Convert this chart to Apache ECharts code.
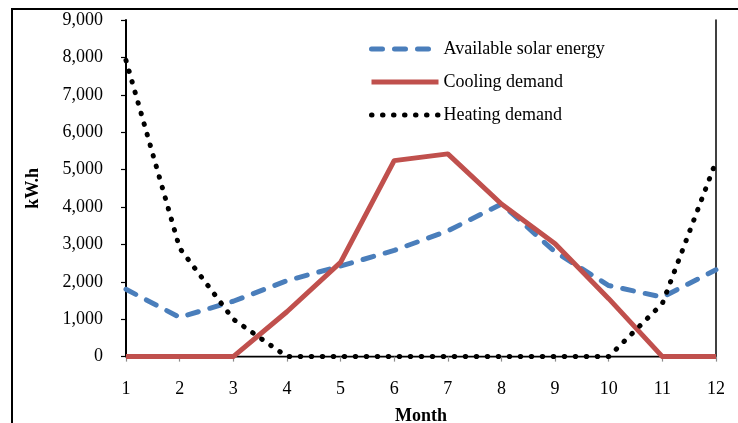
<!DOCTYPE html>
<html>
<head>
<meta charset="utf-8">
<style>
  html, body { margin: 0; padding: 0; background: #fff; }
  #chart { width: 738px; height: 423px; }
</style>
<script src="https://cdn.jsdelivr.net/npm/echarts@6/dist/echarts.min.js"></script>
</head>
<body>
<div id="chart"></div>
<script>
// Monthly energy balance (kW.h)
const months = ['1', '2', '3', '4', '5', '6', '7', '8', '9', '10', '11', '12'];
const solarEnergy = [1800, 1050, 1480, 2030, 2420, 2840, 3360, 4080, 2800, 1900, 1590, 2320];
const coolingDemand = [0, 0, 0, 1200, 2520, 5240, 5420, 4080, 3020, 1550, 0, 0];
const heatingDemand = [7920, 2900, 1000, 0, 0, 0, 0, 0, 0, 0, 1420, 5220];
const yTicks = { min: 0, max: 9000, step: 1000 };

const FONT = '"Liberation Serif", "Times New Roman", serif';
const FS = 18;
const chart = echarts.init(document.getElementById('chart'));

chart.setOption({
  animation: false,
  backgroundColor: '#fff',
  textStyle: { fontFamily: FONT, color: '#000' },
  graphic: [{
    type: 'rect',
    shape: { x: 12, y: 9, width: 800, height: 500 },
    style: { fill: 'none', stroke: '#000', lineWidth: 2 },
    silent: true
  }],
  legend: {
    orient: 'vertical',
    left: 364,
    top: 35,
    itemWidth: 67,
    itemHeight: 14,
    itemGap: 15,
    itemStyle: { opacity: 0 },
    lineStyle: { width: 'inherit', type: 'inherit', cap: 'inherit' },
    textStyle: { fontFamily: FONT, fontSize: FS, color: '#000' },
    data: ['Available solar energy', 'Cooling demand', 'Heating demand']
  },
  grid: {
    left: 126, top: 20, width: 590, height: 336.6,
    containLabel: false,
    outerBoundsMode: 'none'
  },
  xAxis: [{
    type: 'category',
    data: months,
    boundaryGap: false,
    axisLine: { lineStyle: { color: '#8c8c8c', width: 1.5 } },
    axisTick: { show: true, length: 5, lineStyle: { color: '#8c8c8c', width: 1.2 } },
    axisLabel: { margin: 24, fontFamily: FONT, fontSize: FS, color: '#000' },
    name: 'Month',
    nameLocation: 'middle',
    nameGap: 51,
    nameTextStyle: { fontFamily: FONT, fontSize: FS, fontWeight: 'bold', color: '#000' }
  }, {
    type: 'category',
    data: months,
    boundaryGap: false,
    position: 'top',
    axisLine: { lineStyle: { color: '#000', width: 1.3 } },
    axisTick: { show: false },
    axisLabel: { show: false }
  }],
  yAxis: [{
    type: 'value',
    min: yTicks.min,
    max: yTicks.max,
    interval: yTicks.step,
    axisLine: { show: true, lineStyle: { color: '#000', width: 2 } },
    axisTick: { show: true, length: 5, lineStyle: { color: '#000', width: 1.2 } },
    splitLine: { show: false },
    axisLabel: {
      margin: 23,
      fontFamily: FONT,
      fontSize: FS,
      color: '#000',
      formatter: v => v.toLocaleString('en-US')
    },
    name: 'kW.h',
    nameLocation: 'middle',
    nameGap: 84,
    nameTextStyle: { fontFamily: FONT, fontSize: FS, fontWeight: 'bold', color: '#000' }
  }, {
    type: 'value',
    position: 'right',
    min: yTicks.min,
    max: yTicks.max,
    interval: yTicks.step,
    axisLine: { show: true, lineStyle: { color: '#000', width: 1.5 } },
    axisTick: { show: false },
    axisLabel: { show: false },
    splitLine: { show: false }
  }],
  series: [{
    name: 'Available solar energy',
    type: 'line',
    data: solarEnergy,
    symbol: 'none',
    color: '#4a7ebb',
    lineStyle: { color: '#4a7ebb', width: 5, type: [11, 12], cap: 'round', join: 'round' }
  }, {
    name: 'Cooling demand',
    type: 'line',
    data: coolingDemand,
    symbol: 'none',
    color: '#c0504d',
    lineStyle: { color: '#c0504d', width: 5, type: 'solid', join: 'round' }
  }, {
    name: 'Heating demand',
    type: 'line',
    data: heatingDemand,
    symbol: 'none',
    color: '#000',
    lineStyle: { color: '#000', width: 5, type: [0.5, 10.5], cap: 'round' }
  }]
});
</script>
</body>
</html>
